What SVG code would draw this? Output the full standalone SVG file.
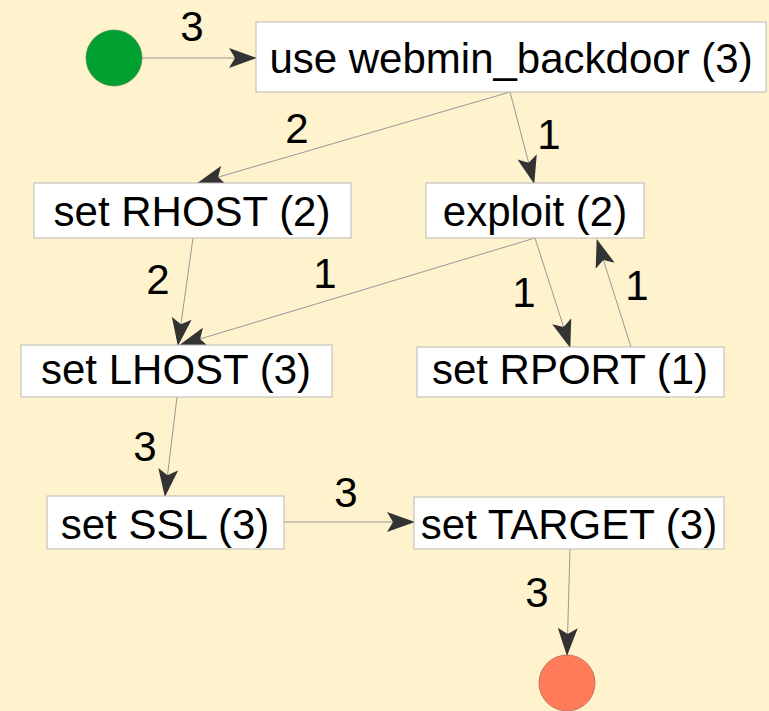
<svg xmlns="http://www.w3.org/2000/svg" width="769" height="711" viewBox="0 0 769 711">
<style>
.node rect{fill:#ffffff;stroke:#b8b8b8;stroke-width:1}
text{font-family:"Liberation Sans",Arial,sans-serif;font-size:42px;fill:#000;text-anchor:middle}
.edge line{stroke:#999;stroke-width:1;marker-end:url(#arr)}
</style>
<defs>
<marker id="arr" markerUnits="userSpaceOnUse" markerWidth="28" markerHeight="20" refX="27" refY="10" orient="auto" viewBox="0 0 28 20">
<path d="M0,0 L28,10 L0,20 L6,10 Z" fill="#333"/>
</marker>
</defs>
<rect x="0" y="0" width="769" height="711" fill="#fef3cd"/>
<g id="edges" class="edge">
<line x1="142" y1="58" x2="256" y2="58"/>
<line x1="510" y1="92" x2="198" y2="183"/>
<line x1="510" y1="92" x2="534" y2="183"/>
<line x1="193" y1="238" x2="178" y2="345"/>
<line x1="535" y1="238" x2="180" y2="345"/>
<line x1="535" y1="238" x2="570" y2="347"/>
<line x1="631" y1="347" x2="597" y2="240"/>
<line x1="177" y1="397" x2="165" y2="496"/>
<line x1="284" y1="522" x2="414" y2="522"/>
<line x1="570" y1="549" x2="567" y2="655"/>
</g>
<g id="edge-labels">
<text x="192" y="41">3</text>
<text x="297" y="143">2</text>
<text x="549" y="149">1</text>
<text x="158" y="294">2</text>
<text x="325" y="288">1</text>
<text x="524" y="307">1</text>
<text x="637" y="300">1</text>
<text x="145" y="461">3</text>
<text x="346" y="507">3</text>
<text x="537" y="607">3</text>
</g>
<g id="start"><circle cx="114" cy="58" r="28" fill="#00a030" stroke="#4a8a4a" stroke-width="0.8"/></g>
<g id="end"><circle cx="567" cy="683" r="28" fill="#ff7b5a" stroke="#b06a50" stroke-width="0.8"/></g>
<g id="n_use" class="node"><rect x="256" y="22" width="510" height="70"/><text x="511" y="73">use webmin_backdoor (3)</text></g>
<g id="n_rhost" class="node"><rect x="34" y="183" width="317" height="55"/><text x="192" y="226">set RHOST (2)</text></g>
<g id="n_exploit" class="node"><rect x="426" y="183" width="218" height="55"/><text x="535" y="226">exploit (2)</text></g>
<g id="n_lhost" class="node"><rect x="21" y="345" width="311" height="52"/><text x="176" y="384">set LHOST (3)</text></g>
<g id="n_rport" class="node"><rect x="417" y="347" width="307" height="50"/><text x="570" y="384">set RPORT (1)</text></g>
<g id="n_ssl" class="node"><rect x="47" y="496" width="237" height="53"/><text x="165" y="539">set SSL (3)</text></g>
<g id="n_target" class="node"><rect x="414" y="497" width="310" height="52"/><text x="569" y="539">set TARGET (3)</text></g>
</svg>
